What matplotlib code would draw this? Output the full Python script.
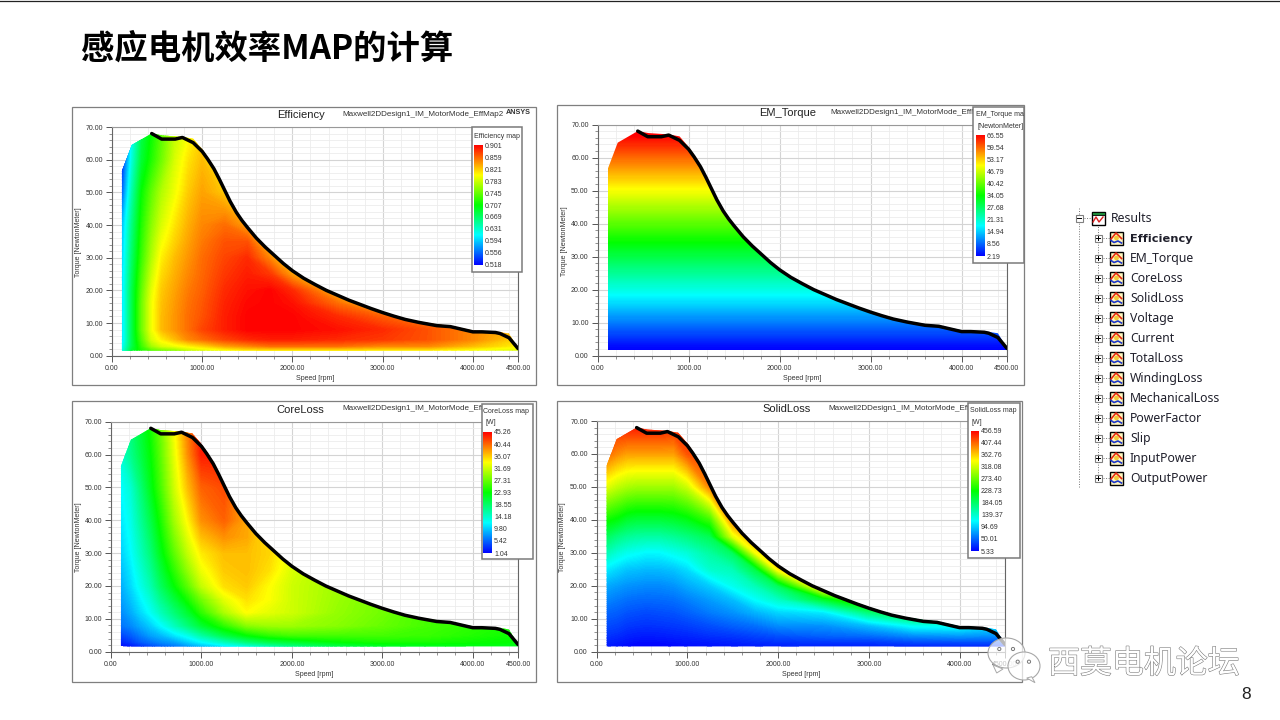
import numpy as np
import matplotlib
matplotlib.use("Agg")
import matplotlib.pyplot as plt
import matplotlib.patheffects as pe
from matplotlib.colors import LinearSegmentedColormap, Normalize
from matplotlib.cm import ScalarMappable
from matplotlib.patches import Rectangle, Ellipse, Polygon, Circle

W, H = 1280, 720
plt.rcParams['font.family'] = ['Liberation Sans', 'DejaVu Sans']

# ---------- data ----------
speed_grid = [110, 220, 330, 440, 550, 700, 850, 1000, 1250, 1500, 1750, 2000, 2500, 3000, 3500, 4000, 4500]
torque_grid = [1.6, 3, 5, 8, 12, 16, 20, 25, 30, 35, 40, 50, 60, 70]

line_speed = [440, 550, 700, 780, 900, 1000, 1060, 1130, 1190, 1250, 1310, 1380, 1440, 1500, 1600, 1700, 1800, 1900,
              2000, 2125, 2250, 2375, 2500, 2625, 2750, 2875, 3000, 3125, 3250, 3400, 3600, 3750, 4000, 4100, 4250,
              4300, 4400, 4500]
line_torque = [68.0, 66.3, 66.3, 66.8, 65.2, 62.5, 60.2, 57.2, 54.0, 50.6, 47.2, 43.8, 41.4, 39.3, 36.0, 33.2, 30.7,
               28.2, 26.0, 23.7, 21.8, 20.0, 18.5, 17.0, 15.7, 14.4, 13.2, 12.1, 11.1, 10.2, 9.2, 8.9, 7.3, 7.3, 7.1,
               6.8, 5.5, 2.2]

region_speed = [110, 110, 220, 440, 560, 780, 900, 1000, 1060, 1130, 1190, 1250, 1310, 1380, 1440, 1500, 1600, 1700,
                1800, 1900, 2000, 2125, 2250, 2375, 2500, 2625, 2750, 2875, 3000, 3125, 3250, 3400, 3600, 3750, 4000,
                4100, 4250, 4400, 4500, 4500]
region_torque = [1.6, 56.5, 64.5, 68.0, 67.4, 67.0, 66.4, 63.2, 60.8, 57.8, 54.5, 51.1, 47.7, 44.2, 41.8, 39.7, 36.3,
                 33.5, 31.0, 28.5, 26.3, 24.0, 22.1, 20.3, 18.8, 17.3, 16.0, 14.7, 13.5, 12.4, 11.4, 10.5, 9.6, 9.2,
                 7.7, 7.6, 7.4, 6.8, 2.2, 1.6]

efficiency_values = [
    [.62, .69, .72, .74, .75, .76, .78, .79, .80, .81, .81, .81, .81, .81, .81, .80, .79],
    [.61, .68, .73, .77, .79, .80, .81, .82, .84, .85, .86, .86, .86, .85, .85, .83, .81],
    [.60, .68, .74, .79, .81, .83, .85, .86, .875, .885, .89, .89, .885, .88, .87, .85, .82],
    [.60, .68, .75, .80, .83, .845, .86, .875, .89, .90, .90, .90, .895, .885, .87, .85, .83],
    [.60, .68, .75, .80, .83, .845, .86, .87, .89, .90, .90, .90, .885, .865, .85, .83, .81],
    [.60, .68, .75, .80, .828, .843, .858, .868, .888, .898, .90, .895, .86, .82, .80, .79, .78],
    [.60, .68, .745, .795, .825, .84, .855, .865, .885, .895, .90, .885, .83, .80, .79, .78, .78],
    [.598, .675, .738, .785, .818, .835, .85, .862, .88, .89, .88, .84, .80, .78, .78, .78, .78],
    [.595, .67, .73, .775, .81, .83, .845, .86, .875, .885, .85, .80, .78, .78, .78, .78, .78],
    [.59, .665, .725, .768, .80, .822, .84, .855, .87, .87, .82, .78, .78, .78, .78, .78, .78],
    [.585, .66, .72, .76, .79, .815, .835, .85, .86, .84, .80, .78, .78, .78, .78, .78, .78],
    [.55, .645, .71, .745, .775, .80, .825, .84, .825, .80, .78, .78, .78, .78, .78, .78, .78],
    [.53, .625, .69, .72, .75, .79, .815, .83, .80, .78, .78, .78, .78, .78, .78, .78, .78],
    [.52, .61, .68, .71, .74, .78, .80, .82, .80, .78, .78, .78, .78, .78, .78, .78, .78],
]

em_torque_by_row = [2.19, 3, 5, 8, 12, 16, 20, 25, 30, 35, 40, 50, 60, 70]

coreloss_values = [
    [1.5, 2, 3, 4, 5, 6, 7.5, 9, 11, 13, 15, 17, 19.5, 21, 21.5, 22, 22],
    [2.5, 3.5, 5, 6, 7, 8, 10, 12, 15, 18, 20, 21, 23, 24, 24, 23.5, 23],
    [4, 5, 6.5, 8, 9, 11, 13, 16, 20, 23, 25, 26, 26, 26, 25.5, 24.5, 23.5],
    [6, 7, 8.5, 10, 12, 15, 18, 21, 25, 29, 30, 30, 29, 27.5, 26, 25, 24],
    [7, 8.5, 10.5, 12.5, 15, 18, 21, 25, 30.5, 34.2, 33, 32, 29.5, 28, 26, 25, 24],
    [7.8, 9.5, 11.7, 14, 17, 20.5, 24, 28, 33, 35.5, 34, 32, 29.8, 28, 26, 25, 24],
    [8.5, 10.5, 13, 15.5, 19, 23, 27, 31.5, 35.5, 36.5, 34.2, 32, 30, 28, 26, 25, 24],
    [9.2, 11.2, 14, 16.8, 20.5, 25, 29.5, 33.5, 36.5, 37, 35.5, 32.5, 30, 28, 26, 25, 24],
    [10, 12, 15, 18, 22, 27, 31.5, 35, 37, 37, 36, 33, 30, 28, 26, 25, 24],
    [10.5, 12.5, 15.7, 19, 23, 28.5, 33, 37, 39, 38, 35, 33, 30, 28, 26, 25, 24],
    [11, 13, 16.5, 20, 24, 30, 34.5, 39, 41, 38, 34, 32, 30, 28, 26, 25, 24],
    [12, 14, 18, 22, 26, 32, 37, 41, 42, 38, 34, 32, 30, 28, 26, 25, 24],
    [14, 17, 20, 23, 27, 33, 39, 44, 44, 38, 34, 32, 30, 28, 26, 25, 24],
    [15, 18, 21, 24, 28, 34, 40, 45, 45, 38, 34, 32, 30, 28, 26, 25, 24],
]

solidloss_values = [
    [15, 12, 8, 6, 5.5, 6, 8, 10, 12, 14, 16, 18, 20, 20, 20, 20, 20],
    [20, 17, 13, 10, 10, 10, 12, 14, 17, 20, 24, 27, 30, 30, 38, 40, 40],
    [28, 25, 20, 18, 17, 18, 20, 22, 27, 30, 36, 42, 50, 55, 70, 75, 70],
    [38, 35, 30, 28, 27, 28, 30, 33, 40, 48, 55, 68, 70, 90, 125, 125, 100],
    [50, 47, 42, 40, 38, 40, 42, 48, 60, 70, 85, 100, 110, 180, 230, 230, 230],
    [65, 60, 55, 53, 52, 53, 55, 62, 75, 90, 120, 145, 215, 290, 300, 300, 300],
    [80, 75, 70, 68, 66, 66, 70, 80, 95, 125, 150, 190, 380, 300, 300, 300, 300],
    [110, 100, 92, 90, 87, 88, 92, 103, 140, 150, 200, 350, 380, 380, 380, 380, 380],
    [150, 135, 125, 120, 115, 116, 125, 135, 160, 190, 340, 380, 380, 380, 380, 380, 380],
    [190, 175, 165, 160, 158, 158, 165, 175, 195, 330, 400, 420, 420, 420, 420, 420, 420],
    [235, 225, 210, 205, 205, 205, 210, 220, 255, 400, 420, 420, 420, 420, 420, 420, 420],
    [330, 315, 305, 300, 300, 300, 300, 320, 400, 420, 420, 420, 420, 420, 420, 420, 420],
    [410, 395, 385, 385, 385, 385, 385, 420, 430, 430, 430, 430, 430, 430, 430, 430, 430],
    [456, 450, 456, 456, 456, 456, 450, 450, 450, 450, 450, 450, 450, 450, 450, 450, 450],
]

efficiency_ticks = ["0.901", "0.859", "0.821", "0.783", "0.745", "0.707", "0.669", "0.631", "0.594", "0.556", "0.518"]
em_torque_ticks = ["66.55", "59.54", "53.17", "46.79", "40.42", "34.05", "27.68", "21.31", "14.94", "8.56", "2.19"]
coreloss_ticks = ["45.26", "40.44", "36.07", "31.69", "27.31", "22.93", "18.55", "14.18", "9.80", "5.42", "1.04"]
solidloss_ticks = ["456.59", "407.44", "362.76", "318.08", "273.40", "228.73", "184.05", "139.37", "94.69", "50.01", "5.33"]

x_ticks = [0, 1000, 2000, 3000, 4000, 4500]
y_ticks = [0, 10, 20, 30, 40, 50, 60, 70]
tree_items = ["Efficiency", "EM_Torque", "CoreLoss", "SolidLoss", "Voltage", "Current", "TotalLoss", "WindingLoss",
              "MechanicalLoss", "PowerFactor", "Slip", "InputPower", "OutputPower"]
page_title = "感应电机效率MAP的计算"
design_names = ["Maxwell2DDesign1_IM_MotorMode_EffMap2", "Maxwell2DDesign1_IM_MotorMode_EffM",
                "Maxwell2DDesign1_IM_MotorMode_Eff", "Maxwell2DDesign1_IM_MotorMode_Eff"]
watermark = "西莫电机论坛"
# ---------------------------

rainbow = LinearSegmentedColormap.from_list(
    "ansys", ["#0000ff", "#00ffff", "#00ff00", "#ffff00", "#ff0000"], N=512)

fig = plt.figure(figsize=(W / 100, H / 100), dpi=100, facecolor="white")


def overlay(z):
    a = fig.add_axes([0, 0, 1, 1], zorder=z, facecolor="none")
    a.set_xlim(0, W)
    a.set_ylim(H, 0)
    a.axis("off")
    return a


bg = overlay(0)
fg = overlay(5)

bg.plot([0, W], [0.5, 0.5], color="#222222", lw=0.9)
bg.text(81, 49, page_title, fontsize=24, fontweight="bold", color="black", va="center", ha="left",
        family=["Noto Sans CJK SC", "DejaVu Sans"])

TXT = "#333333"

panels = [
    dict(name="Efficiency", field=np.array(efficiency_values), vmin=0.518, vmax=0.901, ticks=efficiency_ticks,
         design=design_names[0],
         frame=(71.7, 106.7, 535.7, 385), axes=(112, 127, 518, 355.7), title=(300.7, 114.5), sub=(342.7, 114),
         xl=(315, 379), yl=(79, 241.7), box=(471.7, 127, 521.7, 271.7), cbar=(474.3, 145, 483, 265),
         legend=[("Efficiency map", 474, 136)]),
    dict(name="EM_Torque", field=np.tile(np.array(em_torque_by_row)[:, None], (1, len(speed_grid))),
         vmin=2.19, vmax=66.55, ticks=em_torque_ticks, design=design_names[1],
         frame=(556.7, 104.5, 1024.3, 385), axes=(597.7, 124.5, 1007, 355.7), title=(788, 112.7), sub=(830, 112),
         xl=(802, 379), yl=(565, 240.7), box=(973, 106.7, 1024.3, 263), cbar=(975.7, 135, 984.7, 256),
         legend=[("EM_Torque map", 975.7, 114.5), ("[NewtonMeter]", 977, 126)]),
    dict(name="CoreLoss", field=np.array(coreloss_values), vmin=1.04, vmax=45.26, ticks=coreloss_ticks,
         design=design_names[2],
         frame=(71.7, 401, 535.7, 681.7), axes=(111, 421.7, 518, 651.7), title=(300.7, 410), sub=(342, 409),
         xl=(314, 675), yl=(78, 537), box=(481.7, 404, 533, 559), cbar=(483, 432, 492, 553),
         legend=[("CoreLoss map", 483, 411.7), ("[W]", 485, 423)]),
    dict(name="SolidLoss", field=np.array(solidloss_values), vmin=5.33, vmax=456.59, ticks=solidloss_ticks,
         design=design_names[3],
         frame=(556.7, 400.7, 1021.7, 681.7), axes=(596.7, 421, 1005, 651.7), title=(786.7, 409), sub=(828.7, 409),
         xl=(800.7, 675), yl=(563, 537), box=(967.7, 403, 1020, 558), cbar=(970.7, 430.7, 979, 551),
         legend=[("SolidLoss map", 970, 411), ("[W]", 971.7, 422)]),
]


def px_axes(x0, y0, x1, y1, z):
    return fig.add_axes([x0 / W, 1 - y1 / H, (x1 - x0) / W, (y1 - y0) / H], zorder=z)


S, T = np.meshgrid(speed_grid, torque_grid)

for p in panels:
    fx0, fy0, fx1, fy1 = p["frame"]
    bg.add_patch(Rectangle((fx0, fy0), fx1 - fx0, fy1 - fy0, fc="white", ec="#7f7f7f", lw=0.9))
    bg.text(*p["title"], p["name"], fontsize=8, color="#222222", ha="center", va="center")
    bg.text(*p["sub"], p["design"], fontsize=5.75, color=TXT, ha="left", va="center")
    bg.text(*p["xl"], "Speed [rpm]", fontsize=5, color=TXT, ha="center", va="center")
    bg.text(*p["yl"], "Torque [NewtonMeter]", fontsize=5, color=TXT, ha="center", va="center", rotation=90)

    ax = px_axes(*p["axes"], 1)
    ax.set_xlim(0, 4500)
    ax.set_ylim(0, 70)
    ax.set_facecolor("white")
    norm = Normalize(p["vmin"], p["vmax"])
    levels = np.linspace(p["vmin"], p["vmax"], 200)
    cf = ax.contourf(S, T, p["field"], levels=levels, cmap=rainbow, norm=norm, extend="both",
                     antialiased=False, zorder=2)
    clip = Polygon(np.column_stack([region_speed, region_torque]), closed=True, transform=ax.transData,
                   fc="none", ec="none")
    ax.add_patch(clip)
    cf.set_clip_path(clip)
    ax.plot(line_speed, line_torque, color="black", lw=2.5, zorder=3, solid_joinstyle="round",
            solid_capstyle="round")

    ax.set_xticks(x_ticks)
    ax.set_yticks(y_ticks)
    ax.set_xticklabels([f"{v:.2f}" for v in x_ticks])
    ax.set_yticklabels([f"{v:.2f}" for v in y_ticks])
    ax.set_xticks(np.arange(0, 4500, 200), minor=True)
    ax.set_yticks(np.arange(0, 70, 2), minor=True)
    ax.tick_params(which="major", length=4, width=0.7, color="#555555", labelsize=5, labelcolor=TXT, pad=2.5)
    ax.tick_params(which="minor", length=2, width=0.5, color="#666666")
    ax.grid(True, which="major", color="#d4d4d4", lw=0.8, zorder=0)
    ax.grid(True, which="minor", color="#ececec", lw=0.6, zorder=0)
    ax.set_axisbelow(True)
    for side in ax.spines:
        ax.spines[side].set_linewidth(0.8)
        ax.spines[side].set_color("#666666")
    ax.spines["top"].set_color("#999999")

    bx0, by0, bx1, by1 = p["box"]
    fg.add_patch(Rectangle((bx0, by0), bx1 - bx0, by1 - by0, fc="white", ec="#7a7a7a", lw=1.1, zorder=2))
    box_clip = Rectangle((bx0, by0), bx1 - bx0, by1 - by0, transform=fg.transData, fc="none", ec="none")
    fg.add_patch(box_clip)
    for label, lx, ly in p["legend"]:
        t = fg.text(lx, ly, label, fontsize=5, color=TXT, ha="left", va="center", zorder=3, clip_on=True)
        t.set_clip_path(box_clip)

    cax = px_axes(*p["cbar"], 6)
    sm = ScalarMappable(norm=norm, cmap=rainbow)
    cb = fig.colorbar(sm, cax=cax)
    cb.set_ticks(np.linspace(p["vmax"], p["vmin"], 11))
    cb.set_ticklabels(p["ticks"])
    cb.ax.tick_params(length=0, labelsize=5, labelcolor=TXT, pad=1.5, which="both")
    cb.ax.minorticks_off()
    cb.outline.set_visible(False)

bg.text(506, 112, "ANSYS", fontsize=5.2, fontweight="bold", color=TXT, ha="left", va="center")


# ---------- result tree ----------
def dotted(x0, y0, x1, y1):
    fg.plot([x0, x1], [y0, y1], color="#777777", lw=0.7, ls=(0, (1, 1.6)), zorder=1)


def box_sign(x, y, plus=True):
    fg.add_patch(Rectangle((x - 3.5, y - 3.5), 7, 7, fc="white", ec="#808080", lw=0.8, zorder=2))
    fg.plot([x - 2, x + 2], [y, y], color="black", lw=0.7, zorder=3)
    if plus:
        fg.plot([x, x], [y - 2, y + 2], color="black", lw=0.7, zorder=3)


def icon(x, y):
    fg.add_patch(Rectangle((x, y - 6), 12.5, 12.5, fc="#fff7c0", ec="black", lw=1.0, zorder=2))
    fg.plot([x + 1, x + 6, x + 11.5], [y + 1, y - 5, y + 0.5], color="#e62a10", lw=1.2, zorder=3)
    fg.add_patch(Circle((x + 6.5, y), 2.4, fc="#f2c83a", ec="none", zorder=3))
    fg.plot([x + 1, x + 4, x + 8, x + 11.5], [y + 2.5, y + 4.5, y + 3, y + 5], color="#1c36c8", lw=1.2, zorder=4)


TREE_FONT = ["Noto Sans", "DejaVu Sans"]
dotted(1079.3, 208, 1079.3, 487)
dotted(1079.3, 218, 1091, 218)
dotted(1098.3, 224, 1098.3, 478)
box_sign(1079.3, 218, plus=False)
fg.add_patch(Rectangle((1091.5, 212), 13, 13, fc="white", ec="black", lw=1.0, zorder=2))
fg.add_patch(Rectangle((1091.5, 212), 13, 3, fc="#1f8a3a", ec="black", lw=0.6, zorder=3))
fg.plot([1093, 1096, 1099, 1103], [222, 217, 222, 217], color="#d81e1e", lw=1.0, zorder=4)
fg.text(1111, 218.5, "Results", fontsize=8.8, color="#20202c", family=TREE_FONT, ha="left", va="center", zorder=3)
for i, item in enumerate(tree_items):
    y = 238 + 20 * i
    dotted(1098.3, y, 1110, y)
    box_sign(1098.3, y)
    icon(1110, y)
    if i == 0:
        fg.text(1130, y + 0.5, item, fontsize=8.2, color="#20202c", family="DejaVu Sans", fontweight="bold",
                ha="left", va="center", zorder=3)
    else:
        fg.text(1130, y + 0.5, item, fontsize=8.8, color="#20202c", family=TREE_FONT, ha="left", va="center",
                zorder=3)

# ---------- watermark and page number ----------
for (cx, cy, ex, ey) in [(1006.5, 653, 37, 30), (1024, 666, 32, 28)]:
    fg.add_patch(Ellipse((cx, cy), ex, ey, fc=(1, 1, 1, 0.72), ec="#a8a8a8", lw=0.8, zorder=6))
for (ex, ey) in [(999.3, 649), (1013, 649), (1017.7, 661.7), (1029, 661.7)]:
    fg.add_patch(Circle((ex, ey), 1.6, fc="white", ec="#777777", lw=0.7, zorder=7))
fg.add_patch(Polygon([(993, 665), (996.7, 673), (1003, 669)], closed=True, fc="white", ec="#a8a8a8", lw=0.7, zorder=6))
fg.add_patch(Polygon([(1026.7, 678), (1035, 682.7), (1031.7, 676.7)], closed=True, fc="white", ec="#a8a8a8", lw=0.7,
                     zorder=6))
wm = fg.text(1048, 664, watermark, fontsize=23, color="white", ha="left", va="center", zorder=7,
             family=["Noto Sans CJK SC", "DejaVu Sans"])
wm.set_path_effects([pe.withStroke(linewidth=0.8, foreground="#7a7a7a")])

fg.text(1246, 694.5, "8", fontsize=12.5, color="#222222", ha="center", va="center", zorder=7)

fig.savefig("out.png", dpi=100, facecolor="white")
